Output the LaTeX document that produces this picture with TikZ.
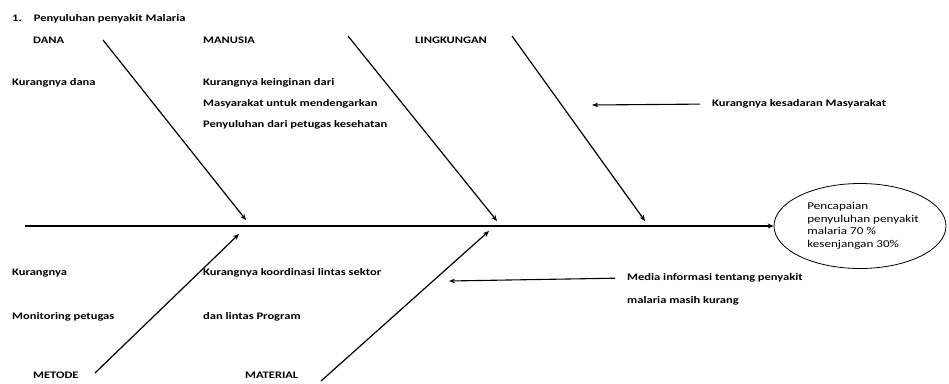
\documentclass[tikz,border=0pt]{standalone}
\usepackage{fontspec}
\setmainfont{Carlito}[FakeStretch=1.25]
\usetikzlibrary{positioning,arrows.meta,shapes.geometric}

\begin{document}
\begin{tikzpicture}[x=1pt,y=-1pt,
                    bone/.style={line width=1.2pt,-{Stealth[length=6pt,width=5pt]}},
                    side/.style={line width=1.1pt,-{Stealth[length=6pt,width=4.5pt]},
                                 shorten <=12pt},
                    cause/.style={anchor=west,inner sep=0pt,align=left,
                                  font=\fontsize{10}{21}\selectfont\bfseries},
                    goalbox/.style={draw,ellipse,line width=0.8pt,inner sep=0pt,
                                    minimum width=172pt,minimum height=85pt,align=left,
                                    font=\fontsize{10.5}{12.5}\selectfont}]
  \useasboundingbox (0,0) rectangle (949,383);
  % title
  \node[cause] (title) at (12,19) {1.\hspace{12pt}Penyuluhan penyakit Malaria};
  % categories
  \node[cause] (dana) at (33,40) {DANA};
  \node[cause] (manusia) at (203,40) {MANUSIA};
  \node[cause] (lingkungan) at (415,40) {LINGKUNGAN};
  \node[cause] (metode) at (33,375) {METODE};
  \node[cause] (material) at (245,375) {MATERIAL};
  % causes
  \node[cause] (kurang-dana) at (12,83) {Kurangnya dana};
  \node[cause] (kurang-minat) at (203,104) {Kurangnya keinginan dari\\
    Masyarakat untuk mendengarkan\\Penyuluhan dari petugas kesehatan};
  \node[cause] (kesadaran) at (712,104) {Kurangnya kesadaran Masyarakat};
  \node[cause,font=\fontsize{10}{44}\selectfont\bfseries] (monitoring) at (12,295)
    {Kurangnya\\Monitoring petugas};
  \node[cause,font=\fontsize{10}{44}\selectfont\bfseries] (koordinasi) at (203,295)
    {Kurangnya koordinasi lintas sektor\\dan lintas Program};
  \node[cause] (media) at (627,278) {Media informasi tentang penyakit};
  \node[cause] (media-2) at (627,301) {malaria masih kurang};
  % effect
  \node[goalbox] (goal) at (860,226) {\hspace*{6pt}Pencapaian\\
    \hspace*{6pt}penyuluhan penyakit\\\hspace*{6pt}malaria 70 \%\\
    \hspace*{6pt}kesenjangan 30\%};
  % spine and bones
  \coordinate (spine-tail) at (25,226);
  \coordinate (dana-tail) at (103,40);
  \coordinate (dana-head) at (246,220);
  \coordinate (manusia-tail) at (348,36);
  \coordinate (manusia-head) at (497,221);
  \coordinate (lingkungan-tail) at (512,36);
  \coordinate (lingkungan-head) at (645,221);
  \coordinate (metode-tail) at (95,373);
  \coordinate (metode-head) at (239,234);
  \coordinate (material-tail) at (321,381);
  \coordinate (material-head) at (489,231);
  \coordinate (kesadaran-tip) at (592,105);
  \coordinate (media-tip) at (449,281);
  \draw[bone] (spine-tail) -- (goal);
  \draw[bone] (dana-tail) -- (dana-head);
  \draw[bone] (manusia-tail) -- (manusia-head);
  \draw[bone] (lingkungan-tail) -- (lingkungan-head);
  \draw[bone] (metode-tail) -- (metode-head);
  \draw[bone] (material-tail) -- (material-head);
  \draw[side] (kesadaran.west) -- (kesadaran-tip);
  \draw[side] (media.west) -- (media-tip);
\end{tikzpicture}
\end{document}
